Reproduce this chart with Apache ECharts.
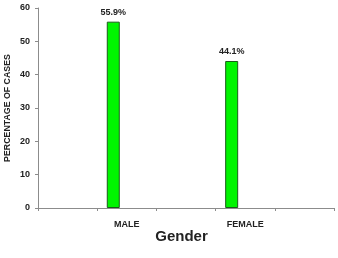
<!DOCTYPE html>
<html><head><meta charset="utf-8">
<script src="https://cdn.jsdelivr.net/npm/echarts@6/dist/echarts.min.js"></script>
<style>html,body{margin:0;padding:0;background:#fff}#c{width:338px;height:258px}</style>
</head><body><div id="c"></div>
<script>
var categories = ['', 'MALE', '', 'FEMALE', ''];
var percentages = [null, 55.9, null, 44.1, null];
var emptySeries = [null, null, null, null, null];
var yTicks = {min: 0, max: 60, interval: 10};
var xTitle = 'Gender';
var yTitle = 'PERCENTAGE OF CASES';

var chart = echarts.init(document.getElementById('c'), null, {renderer: 'canvas'});
var font = 'Liberation Sans, Arial, sans-serif';
chart.setOption({
  animation: false,
  grid: {left: 38, right: 4, top: 8, bottom: 50, containLabel: false, outerBoundsMode: 'none'},
  xAxis: {
    type: 'category', data: categories,
    axisLine: {lineStyle: {color: '#8c8c8c', width: 1}},
    axisTick: {show: true, length: 3, lineStyle: {color: '#8c8c8c'}},
    axisLabel: {color: '#222', fontFamily: font, fontWeight: 'bold', fontSize: 9, margin: 12},
    name: xTitle, nameLocation: 'middle', nameGap: 21, nameMoveOverlap: false,
    nameTextStyle: {color: '#222', fontFamily: font, fontWeight: 'bold', fontSize: 15, padding: [0, 9, 0, 0]}
  },
  yAxis: {
    type: 'value', min: yTicks.min, max: yTicks.max, interval: yTicks.interval,
    axisLine: {show: true, lineStyle: {color: '#8c8c8c', width: 1}},
    axisTick: {show: true, length: 3, lineStyle: {color: '#8c8c8c'}},
    splitLine: {show: false},
    axisLabel: {color: '#222', fontFamily: font, fontWeight: 'bold', fontSize: 9, margin: 8},
    name: yTitle, nameLocation: 'middle', nameGap: 26, nameRotate: 90, nameMoveOverlap: false,
    nameTextStyle: {color: '#222', fontFamily: font, fontWeight: 'bold', fontSize: 8.8}
  },
  series: [{
    type: 'bar', data: percentages, barWidth: 13, barGap: '108%',
    itemStyle: {color: '#00f500', borderColor: '#1a5c1a', borderWidth: 1},
    label: {show: true, position: 'top', distance: 5, formatter: function(p){return p.value.toFixed(1) + '%';},
      color: '#222', fontFamily: font, fontWeight: 'bold', fontSize: 9}
  }, {
    type: 'bar', data: emptySeries, barWidth: 13
  }]
});
</script></body></html>
